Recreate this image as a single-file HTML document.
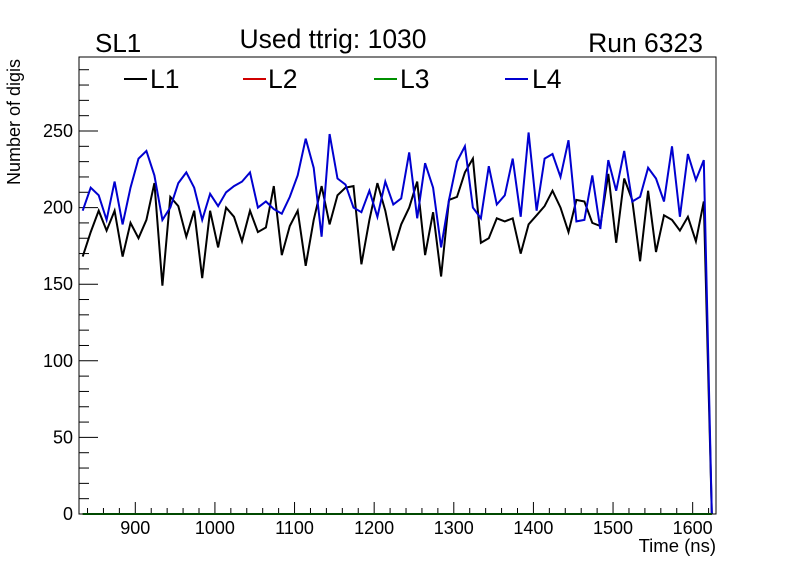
<!DOCTYPE html>
<html><head><meta charset="utf-8"><style>
body{margin:0;background:#fff;}
svg{display:block;font-family:"Liberation Sans",sans-serif;}
</style></head><body>
<svg id="c" width="796" height="572" xmlns="http://www.w3.org/2000/svg">
<rect x="0" y="0" width="796" height="572" fill="#fff"/>
<text x="95" y="52" font-size="26">SL1</text>
<text x="333" y="48" font-size="26.5" text-anchor="middle">Used ttrig: 1030</text>
<text x="703" y="52" font-size="26.5" text-anchor="end">Run 6323</text>
<text transform="translate(20,122) rotate(-90)" font-size="18" text-anchor="middle">Number of digis</text>
<text x="716" y="552" font-size="18.5" text-anchor="end">Time (ns)</text>
<g id="axes"></g>
<g id="series"></g>
<rect x="79" y="57" width="637" height="457" fill="none" stroke="#000" stroke-width="1"/>
<g>
<g><line x1="124" y1="79" x2="147" y2="79" stroke="#000" stroke-width="2"/><text x="150" y="88" font-size="26.5">L1</text></g>
<g><line x1="243" y1="79" x2="266" y2="79" stroke="#d00000" stroke-width="2"/><text x="268" y="88" font-size="26.5">L2</text></g>
<g><line x1="374" y1="79" x2="397" y2="79" stroke="#009000" stroke-width="2"/><text x="400" y="88" font-size="26.5">L3</text></g>
<g><line x1="505" y1="79" x2="528" y2="79" stroke="#0000d0" stroke-width="2"/><text x="532" y="88" font-size="26.5">L4</text></g>
</g>
</svg>
<script>
const binStart = 834;
const binWidth = 10;
const l1 = [168,184,198,185,198,168,190,180,192,216,149,207,201,181,198,154,198,174,200,194,178,198,184,187,214,169,188,198,162,192,214,189,208,213,214,163,192,216,198,172,189,200,217,169,197,155,205,207,223,232,177,180,193,191,193,170,189,195,201,211,200,184,205,204,190,188,222,177,219,205,165,211,171,195,192,185,194,178,204,0];
const l2 = l1.map(()=>0);
const l3 = l1.map(()=>0);
const l4 = [198,213,208,192,217,189,213,232,237,221,192,200,216,223,213,192,209,201,210,214,217,223,200,204,199,196,207,221,245,226,181,248,219,215,200,197,211,194,217,202,206,236,193,229,213,174,205,230,240,200,193,227,202,208,232,194,249,198,232,235,220,244,191,192,221,186,231,211,237,204,207,226,219,204,240,194,235,218,231,0];
const xTicks = [900,1000,1100,1200,1300,1400,1500,1600];
const yTicks = [0,50,100,150,200,250];

const NS='http://www.w3.org/2000/svg';
const X0=79,X1=716,Y0=514,Y1=57;
const xmin=829.3, xmax=1629.3, ymax=298.3;
const xs=t=>X0+(t-xmin)/(xmax-xmin)*(X1-X0);
const ys=v=>Y0-v/ymax*(Y0-Y1);
function mk(tag,attrs,parent){const e=document.createElementNS(NS,tag);for(const k in attrs)e.setAttribute(k,attrs[k]);parent.appendChild(e);return e;}
const axes=document.getElementById('axes');
for(let t=840;t<=1620;t+=20){
  const major=t%100===0;
  const l=mk('line',{x1:xs(t),x2:xs(t),y1:Y0,y2:Y0-(major?12:6),stroke:'#000','stroke-width':1},axes);
  
  
}
xTicks.forEach(t=>{
  const tx=mk('text',{x:xs(t),y:Y0+20,'font-size':18,'text-anchor':'middle'},axes);
  tx.textContent=t;
  
  
});
for(let v=0;v<=290;v+=10){
  const major=v%50===0;
  const l=mk('line',{x1:X0,x2:X0+(major?19:10),y1:ys(v),y2:ys(v),stroke:'#000','stroke-width':1},axes);
  
  
}
yTicks.forEach(v=>{
  const tx=mk('text',{x:73,y:ys(v)+6,'font-size':18,'text-anchor':'end'},axes);
  tx.textContent=v;
  
  
});
const series=document.getElementById('series');
function draw(arr,color,name){
  const pts=arr.map((v,i)=>xs(binStart+i*binWidth).toFixed(1)+','+ys(v).toFixed(1)).join(' ');
  const p=mk('polyline',{points:pts,fill:'none',stroke:color,'stroke-width':2,'stroke-linejoin':'miter'},series);
  
  
}
draw(l1,'#000','series-l1');
draw(l4,'#0000d0','series-l4');
draw(l2,'#d00000','series-l2');
draw(l3,'#009000','series-l3');
</script>
</body></html>
